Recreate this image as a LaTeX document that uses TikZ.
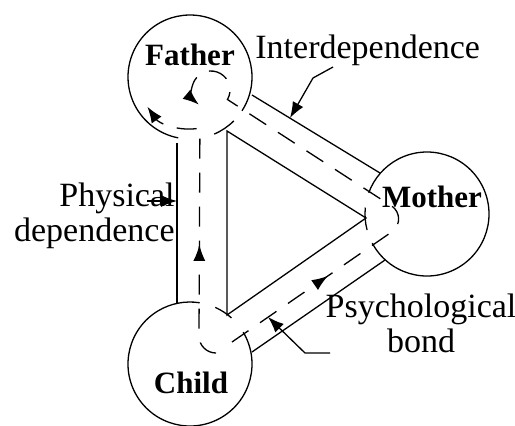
\documentclass[tikz,border=0pt]{standalone}
\usepackage{fontspec}
\setmainfont{Liberation Serif}
\usetikzlibrary{arrows.meta,calc,decorations.markings}
\tikzset{
	edge/.style={line width=0.65pt},
	flow/.style={line width=0.65pt, dash pattern=on 10pt off 7pt},
	tip/.style={-{Latex[length=8pt,width=6pt]}},
	midtip/.style={postaction={decorate}, decoration={markings, mark=at position #1 with {\arrow{Latex[length=8pt,width=6pt]}}}},
	who/.style={font=\fontsize{15.5}{18}\selectfont\bfseries, inner sep=0pt, anchor=base},
	note/.style={font=\fontsize{17}{17.5}\selectfont, inner sep=0pt}
}
\begin{document}
\begin{tikzpicture}[x=0.5pt,y=-0.5pt]
	\def\r{62}
	\useasboundingbox (0,0) rectangle (515,425);
	\coordinate (F) at (190,77);
	\coordinate (M) at (427,214);
	\coordinate (C) at (190,364);
	\coordinate (L) at (211,90);
	\coordinate (T) at (383,219);
	% triangle and band sides
	\coordinate (f) at (227,131);
	\coordinate (m) at (366,218);
	\coordinate (c) at (227,315);
	\coordinate (f1) at (177,143);
	\coordinate (c1) at (177,303);
	\coordinate (f2) at (252,95);
	\coordinate (m2) at (380,173);
	\coordinate (m3) at (385,260);
	\coordinate (c3) at (252,352);
	\draw [edge] (f) -- (m) -- (c) -- cycle;
	\draw [edge] (f1) -- (c1);
	\draw [edge] (f2) -- (m2);
	\draw [edge] (m3) -- (c3);
	% circles, open where the bands go in
	\draw [edge] ($(F)+(33:\r)$) arc [start angle=33, end angle=-259, radius=\r];
	\draw [edge] ($(F)+(67:\r)$) arc [start angle=67, end angle=45, radius=\r];
	\draw [edge] ($(M)+(152:\r)$) arc [start angle=152, end angle=-160, radius=\r];
	\draw [edge] ($(M)+(186:\r)$) arc [start angle=186, end angle=165, radius=\r];
	\draw [edge] ($(C)+(-31:\r)$) arc [start angle=-31, end angle=279, radius=\r];
	\draw [edge] ($(C)+(-66:\r)$) arc [start angle=-66, end angle=-48, radius=\r];
	% dashed flows
	\draw [flow, tip, midtip=0.4] ($(216,336)+(90:17)$) arc [start angle=90, end angle=180, radius=17]
		-- ($(F)+(79:52)$) arc [start angle=79, end angle=145, radius=52];
	\draw [flow, tip, midtip=0.23] (232,342) -- ($(T)+(55:15.6)$) arc [start angle=55, end angle=-50, radius=15.6]
		-- ($(L)+(30:19)$) arc [start angle=30, end angle=-230, radius=19];
	% labels
	\node [who] (father) at (190,65) {Father};
	\node [who] (mother) at (432,207) {Mother};
	\node [who] (child) at (191,393) {Child};
	\node [note, anchor=base west] (inter) at (255,58) {Interdependence};
	\node [note, anchor=base east, align=right] (phys) at (175,241) {Physical\\dependence};
	\node [note, anchor=base, align=center] (psych) at (421,352) {Psychological\\bond};
	\coordinate (interA) at (333,67);
	\coordinate (interB) at (313,78);
	\coordinate (interT) at (290,118);
	\coordinate (physA) at (147,201);
	\coordinate (physT) at (177,201);
	\coordinate (psychA) at (330,353);
	\coordinate (psychB) at (305,353);
	\coordinate (psychT) at (268,317);
	\draw [edge, tip] (interA) -- (interB) -- (interT);
	\draw [edge, tip] (physA) -- (physT);
	\draw [edge, tip] (psychA) -- (psychB) -- (psychT);
\end{tikzpicture}
\end{document}
